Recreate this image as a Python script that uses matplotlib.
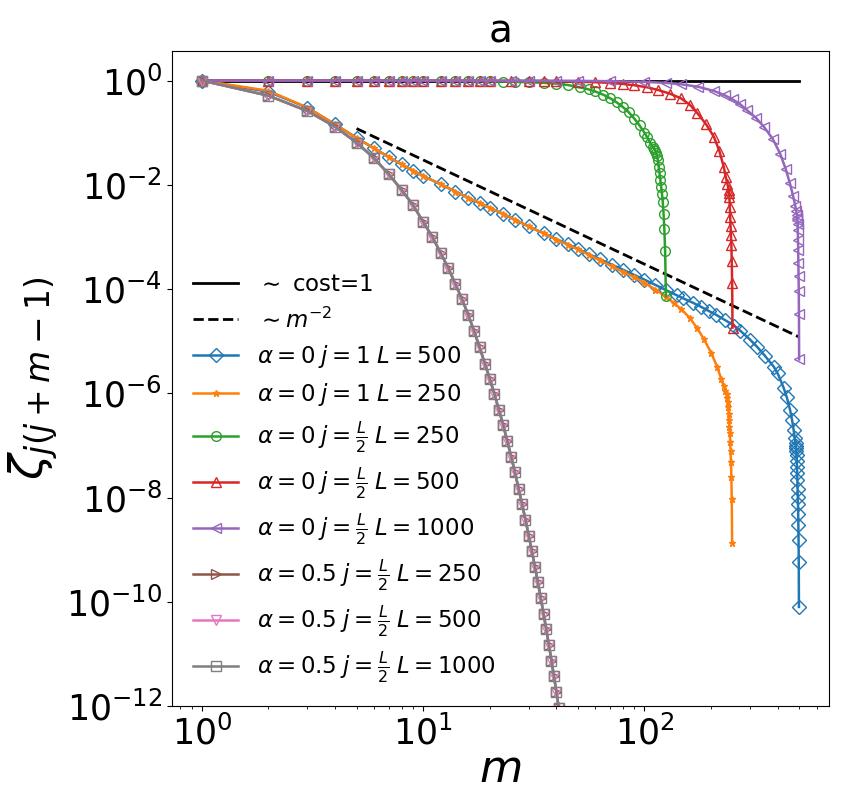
import numpy as np
import matplotlib
matplotlib.use('Agg')
import matplotlib.pyplot as plt

# 数据：log10(zeta) 读自原图
m_ref = [1, 500]
cost_ref = [1.0, 1.0]
m_pow = [5, 500]
z_pow = [0.12, 1.2e-5]

# alpha=0, j=1, L=500
m_a0_j1_L500 = [1, 2, 3, 4, 5, 6, 7, 8, 9, 10, 12, 14, 16, 18, 20, 23, 26, 30, 35, 40,
                45, 50, 56, 63, 71, 80, 90, 100, 112, 125, 140, 150, 165, 180, 195, 210,
                230, 254, 271, 300, 323, 350, 384, 400, 426, 440, 455, 465, 472, 478,
                482, 484, 485, 486, 487, 488, 489, 490, 491, 492, 493, 494, 495, 496,
                497, 498, 499]
lz_a0_j1_L500 = [0, -0.215, -0.52, -0.84, -1.10, -1.30, -1.47, -1.61, -1.73, -1.83,
                 -1.99, -2.13, -2.25, -2.35, -2.44, -2.56, -2.67, -2.80, -2.93, -3.04,
                 -3.14, -3.23, -3.33, -3.43, -3.53, -3.63, -3.73, -3.82, -3.92, -4.02,
                 -4.12, -4.18, -4.26, -4.34, -4.42, -4.49, -4.59, -4.70, -4.80, -4.97,
                 -5.11, -5.28, -5.49, -5.62, -5.90, -6.08, -6.32, -6.52, -6.70, -6.86,
                 -6.95, -7.01, -7.05, -7.11, -7.19, -7.30, -7.41, -7.53, -7.67, -7.83,
                 -7.99, -8.13, -8.31, -8.52, -8.81, -9.24, -10.10]

# alpha=0, j=1, L=250
m_a0_j1_L250 = [1, 2, 3, 4, 5, 6, 7, 8, 9, 10, 12, 14, 16, 18, 20, 23, 26, 30, 35, 40,
                45, 50, 56, 63, 71, 80, 90, 100, 112, 125, 136, 146, 160, 173, 185, 200,
                213, 222, 228, 232, 235, 237, 238, 239, 240, 241, 242, 243, 244, 245,
                246, 247, 248, 249]
lz_a0_j1_L250 = [0, -0.196, -0.52, -0.84, -1.10, -1.30, -1.47, -1.61, -1.73, -1.83,
                 -1.99, -2.13, -2.25, -2.35, -2.44, -2.56, -2.67, -2.80, -2.93, -3.05,
                 -3.15, -3.24, -3.34, -3.45, -3.56, -3.67, -3.77, -3.88, -4.01, -4.15,
                 -4.27, -4.38, -4.55, -4.75, -4.95, -5.22, -5.49, -5.72, -5.86, -5.95,
                 -6.02, -6.10, -6.17, -6.26, -6.39, -6.52, -6.65, -6.77, -6.93, -7.11,
                 -7.32, -7.60, -8.03, -8.88]

# alpha=0, j=L/2, L=250
m_a0_jh_L250 = [1, 2, 3, 4, 5, 6, 7, 8, 9, 10, 12, 14, 16, 18, 20, 23, 26, 30, 35, 40,
                45, 51, 56, 60, 65, 70, 75, 80, 85, 90, 95, 100, 103, 106, 109, 111,
                112, 113, 114, 115, 116, 117, 118, 119, 120, 121, 122, 123, 124, 125]
lz_a0_jh_L250 = [0, -0.001, -0.001, -0.001, -0.002, -0.002, -0.003, -0.003, -0.004,
                 -0.005, -0.006, -0.008, -0.010, -0.012, -0.015, -0.019, -0.024, -0.032,
                 -0.044, -0.06, -0.085, -0.13, -0.17, -0.21, -0.27, -0.34, -0.42, -0.51,
                 -0.61, -0.73, -0.86, -1.00, -1.09, -1.19, -1.27, -1.31, -1.35, -1.39,
                 -1.45, -1.53, -1.65, -1.78, -1.91, -2.04, -2.17, -2.33, -2.56, -2.85,
                 -3.27, -4.14]

# alpha=0, j=L/2, L=500
m_a0_jh_L500 = [1, 2, 3, 4, 5, 6, 7, 8, 9, 10, 12, 14, 16, 18, 20, 25, 30, 35, 40, 50,
                60, 70, 80, 90, 103, 115, 130, 146, 160, 173, 190, 206, 218, 228, 233,
                237, 240, 241, 242, 243, 244, 245, 246, 247, 248, 249, 250]
lz_a0_jh_L500 = [0, -0.0005, -0.0005, -0.0005, -0.001, -0.001, -0.001, -0.001, -0.001,
                 -0.002, -0.002, -0.002, -0.003, -0.003, -0.004, -0.006, -0.008, -0.011,
                 -0.015, -0.022, -0.032, -0.045, -0.065, -0.09, -0.13, -0.18, -0.25,
                 -0.34, -0.46, -0.62, -0.84, -1.08, -1.35, -1.65, -1.85, -1.98, -2.10,
                 -2.16, -2.23, -2.42, -2.61, -2.79, -2.97, -3.16, -3.46, -3.88, -4.74]

# alpha=0, j=L/2, L=1000
m_a0_jh_L1000 = [1, 2, 3, 4, 5, 6, 7, 8, 9, 10, 12, 14, 16, 18, 20, 25, 30, 40, 50, 70,
                 100, 125, 146, 175, 206, 230, 250, 270, 291, 320, 347, 380, 410, 435,
                 454, 470, 480, 485, 488, 490, 491, 492, 493, 494, 495, 496, 497, 498,
                 499, 500]
lz_a0_jh_L1000 = [0, -0.0002, -0.0002, -0.0002, -0.0003, -0.0003, -0.0004, -0.0004,
                  -0.0005, -0.0005, -0.0006, -0.0007, -0.0008, -0.0009, -0.001, -0.0015,
                  -0.002, -0.003, -0.006, -0.012, -0.025, -0.045, -0.07, -0.12, -0.20,
                  -0.28, -0.36, -0.45, -0.57, -0.72, -0.89, -1.12, -1.40, -1.70, -1.97,
                  -2.22, -2.40, -2.50, -2.57, -2.63, -2.68, -2.76, -2.87, -3.06, -3.25,
                  -3.51, -3.75, -4.04, -4.47, -5.35]

# alpha=0.5, j=L/2 (三个L在图上重合)
m_a05 = list(range(1, 45))
lz_a05 = [0, -0.29, -0.585, -0.886, -1.19, -1.49, -1.80, -2.10, -2.39, -2.71, -3.0,
          -3.31, -3.60, -3.91, -4.20, -4.50, -4.81, -5.12, -5.43, -5.72, -6.02, -6.32,
          -6.61, -6.92, -7.22, -7.52, -7.83, -8.13, -8.43, -8.73, -9.03, -9.33, -9.63,
          -9.93, -10.23, -10.53, -10.83, -11.13, -11.43, -11.73, -12.03, -12.33,
          -12.63, -12.93]

series = [
    (m_a0_j1_L500, lz_a0_j1_L500, 'D', 7, r'$\alpha=0\;j=1\;L=500$'),
    (m_a0_j1_L250, lz_a0_j1_L250, '*', 5, r'$\alpha=0\;j=1\;L=250$'),
    (m_a0_jh_L250, lz_a0_jh_L250, 'o', 7, r'$\alpha=0\;j=\frac{L}{2}\;L=250$'),
    (m_a0_jh_L500, lz_a0_jh_L500, '^', 7, r'$\alpha=0\;j=\frac{L}{2}\;L=500$'),
    (m_a0_jh_L1000, lz_a0_jh_L1000, '<', 7, r'$\alpha=0\;j=\frac{L}{2}\;L=1000$'),
    (m_a05, lz_a05, '>', 7, r'$\alpha=0.5\;j=\frac{L}{2}\;L=250$'),
    (m_a05, lz_a05, 'v', 7, r'$\alpha=0.5\;j=\frac{L}{2}\;L=500$'),
    (m_a05, lz_a05, 's', 7, r'$\alpha=0.5\;j=\frac{L}{2}\;L=1000$'),
]

fig = plt.figure(figsize=(8.42, 8.09), dpi=100)
ax = fig.add_axes([172 / 842, 1 - 706 / 809, 657 / 842, 655 / 809])

ax.plot(m_ref, cost_ref, color='black', lw=2, label=r'$\sim$ cost=1')
ax.plot(m_pow, z_pow, color='black', lw=2, ls='--', label=r'$\sim m^{-2}$')

for i, (m, lz, mk, ms, lab) in enumerate(series):
    ax.plot(m, 10.0 ** np.array(lz), color='C%d' % i, marker=mk, ms=ms,
            mfc='none', lw=1.8, label=lab)

ax.set_xscale('log')
ax.set_yscale('log')
ax.set_ylim(1e-12, 10 ** 0.567)
ax.tick_params(labelsize=25)
ax.set_xlabel(r'$m$', fontsize=32, labelpad=-3)
ax.set_ylabel(r'$\zeta_{j(j+m-1)}$', fontsize=34)
ax.set_title('a', fontsize=28)
ax.legend(loc='lower left', fontsize=16.5, frameon=False, labelspacing=0.48)

fig.savefig('out.png', dpi=100)
